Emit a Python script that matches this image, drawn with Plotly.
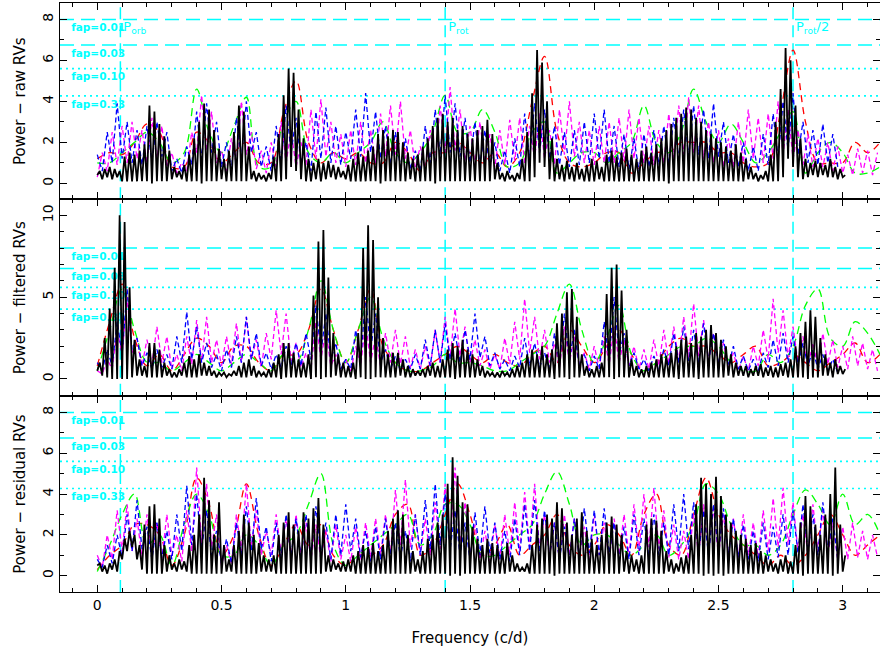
import plotly.graph_objects as go
from plotly.subplots import make_subplots

# ---------------- DATA ----------------
PANEL_TITLES = ["Power − raw RVs", "Power − filtered RVs", "Power − residual RVs"]
FAP_LABELS = ["fap=0.01", "fap=0.03", "fap=0.10", "fap=0.33"]
FAP_LEVELS = [8.0, 6.75, 5.6, 4.27]
MARK_FREQS = [0.093, 1.40, 2.80]
MARK_LABELS = ["P<sub>orb</sub>", "P<sub>rot</sub>", "P<sub>rot</sub>/2"]
X_TICKS = [0, 0.5, 1, 1.5, 2, 2.5, 3]
X_TICK_TEXT = ["0", "0.5", "1", "1.5", "2", "2.5", "3"]

# black: peaks at f = 0.01, 0.03, ... ; troughs at f = 0.00, 0.02, ...
RAW_BLACK_PEAKS = [
    0.6, 0.7, 0.8, 0.7, 0.6, 1.3, 1.5, 1.4, 1.6, 1.9, 3.8, 3.5, 2.9, 2.3, 1.6,
    0.8, 0.6, 0.9, 1.4, 2.2, 3.0, 3.9, 3.6, 2.6, 1.7, 1.2, 1.6, 2.5, 3.8, 3.5,
    1.8, 0.6, 0.5, 0.4, 0.5, 1.3, 2.4, 4.3, 5.6, 5.4, 3.6, 2.2, 1.2, 1.0, 1.2,
    1.0, 1.1, 0.9, 0.8, 0.6, 0.9, 1.2, 1.5, 1.3, 1.6, 1.8, 2.4, 2.6, 2.3, 2.6,
    2.5, 2.0, 1.5, 1.2, 1.4, 1.8, 2.2, 2.8, 3.2, 3.4, 3.0, 3.2, 2.6, 2.8, 2.4,
    2.2, 2.6, 2.8, 3.1, 2.4, 1.0, 0.5, 0.6, 0.4, 0.5, 1.2, 2.5, 4.4, 6.5, 5.9,
    4.0, 2.2, 1.2, 0.9, 1.1, 0.8, 1.0, 0.7, 0.9, 1.2, 1.1, 0.8, 1.4, 1.6, 1.3,
    1.5, 1.7, 1.4, 1.2, 1.6, 1.8, 1.5, 1.9, 2.2, 2.6, 2.9, 3.2, 3.4, 3.7, 3.6,
    3.2, 3.0, 2.6, 2.4, 2.2, 2.0, 1.8, 1.6, 1.9, 1.5, 1.2, 0.8, 0.5, 0.4, 0.6,
    1.4, 3.0, 4.6, 6.6, 6.0, 3.8, 2.2, 1.2, 1.0, 1.1, 1.0, 0.9, 1.2, 0.8, 0.7,
    0.4]
RAW_BLACK_TROUGHS = [
    0.4, 0.2, 0.3, 0.2, 0.3, 0.1, 0.1, 0.1, 0.1, 0.1, 0.1, 0.0, 0.1, 0.1, 0.1,
    0.2, 0.3, 0.2, 0.1, 0.1, 0.1, 0.0, 0.1, 0.1, 0.1, 0.2, 0.1, 0.1, 0.1, 0.1,
    0.1, 0.2, 0.1, 0.2, 0.1, 0.2, 0.1, 0.1, 0.2, 0.8, 0.6, 0.2, 0.1, 0.1, 0.2,
    0.1, 0.2, 0.3, 0.2, 0.3, 0.2, 0.1, 0.1, 0.1, 0.1, 0.1, 0.1, 0.0, 0.1, 0.1,
    0.1, 0.1, 0.1, 0.2, 0.1, 0.1, 0.1, 0.1, 0.0, 0.1, 0.1, 0.1, 0.1, 0.1, 0.1,
    0.1, 0.1, 0.1, 0.1, 0.1, 0.2, 0.2, 0.1, 0.2, 0.1, 0.2, 0.1, 0.1, 0.3, 1.0,
    0.8, 0.2, 0.1, 0.2, 0.1, 0.2, 0.1, 0.2, 0.1, 0.1, 0.1, 0.2, 0.1, 0.1, 0.1,
    0.1, 0.1, 0.1, 0.1, 0.1, 0.1, 0.1, 0.1, 0.1, 0.1, 0.0, 0.1, 0.1, 0.1, 0.1,
    0.1, 0.1, 0.1, 0.1, 0.1, 0.1, 0.1, 0.1, 0.1, 0.1, 0.1, 0.2, 0.2, 0.1, 0.2,
    0.1, 0.1, 0.1, 0.3, 1.2, 0.8, 0.3, 0.2, 0.3, 0.4, 0.3, 0.4, 0.3, 0.3, 0.2,
    0.3]
# blue / magenta: f = 0.00, 0.02, ...
RAW_BLUE = [
    1.4, 0.6, 2.5, 1.0, 3.9, 1.2, 3.0, 1.0, 2.6, 0.9, 2.8, 1.1, 3.0, 1.3, 2.5,
    0.6, 1.2, 0.5, 1.8, 0.9, 3.5, 1.2, 3.9, 1.5, 3.0, 0.8, 2.0, 0.7, 3.2, 1.2,
    4.0, 1.5, 2.5, 0.8, 1.8, 0.6, 2.8, 1.0, 3.8, 1.5, 3.2, 1.0, 2.0, 0.6, 3.5,
    1.2, 3.7, 1.0, 2.8, 0.9, 2.5, 1.2, 3.6, 1.3, 4.4, 1.5, 3.5, 1.2, 2.8, 0.9,
    2.5, 0.8, 2.2, 0.7, 1.6, 0.6, 2.8, 1.0, 3.6, 1.4, 4.3, 1.5, 3.9, 1.3, 3.2,
    1.0, 3.0, 0.9, 2.6, 0.8, 2.0, 0.6, 1.6, 0.5, 2.2, 0.8, 3.4, 1.2, 3.9, 1.5,
    3.6, 1.2, 2.8, 0.9, 2.5, 0.8, 2.6, 0.9, 3.0, 1.0, 3.4, 1.2, 3.6, 1.0, 2.8,
    0.8, 2.4, 0.7, 2.2, 0.6, 2.4, 0.8, 2.6, 0.9, 2.8, 1.0, 3.2, 1.2, 3.6, 1.3,
    3.8, 1.4, 3.6, 1.2, 3.9, 1.3, 3.0, 1.0, 2.4, 0.8, 2.0, 0.6, 1.8, 0.6, 2.4,
    0.9, 3.4, 1.2, 4.0, 1.6, 4.4, 1.4, 3.0, 1.0, 2.6, 0.9, 2.9, 1.0, 2.4, 0.8]
RAW_MAGENTA = [
    0.3, 1.5, 0.6, 2.5, 0.9, 2.8, 1.0, 3.0, 1.2, 2.6, 1.0, 3.2, 1.2, 2.8, 0.8,
    1.5, 0.5, 1.0, 0.6, 2.5, 1.5, 4.3, 1.6, 3.5, 1.0, 1.6, 0.6, 2.2, 0.9, 4.0,
    1.4, 2.5, 0.7, 1.6, 0.5, 2.0, 0.8, 3.0, 1.0, 2.6, 0.8, 2.0, 0.9, 3.6, 1.2,
    4.1, 1.3, 3.0, 1.0, 2.4, 0.8, 2.6, 0.9, 3.0, 1.0, 2.6, 1.0, 3.4, 1.3, 3.8,
    1.4, 4.0, 1.2, 2.6, 0.8, 1.8, 0.6, 2.6, 0.9, 3.8, 1.5, 4.7, 1.6, 3.6, 1.1,
    2.8, 0.9, 3.0, 1.0, 2.4, 0.8, 2.6, 0.9, 3.1, 1.1, 3.2, 1.0, 2.8, 1.2, 3.4,
    1.2, 2.6, 0.9, 3.6, 1.4, 4.0, 1.3, 3.0, 1.0, 2.6, 0.9, 2.8, 1.0, 3.0, 1.0,
    3.2, 1.1, 3.6, 1.2, 3.2, 1.0, 2.8, 0.9, 2.6, 1.0, 3.4, 1.2, 3.8, 1.4, 4.2,
    1.5, 3.8, 1.2, 3.0, 1.0, 2.6, 0.8, 2.2, 0.8, 3.0, 1.0, 3.6, 1.2, 3.2, 1.0,
    3.4, 1.2, 4.0, 1.4, 3.6, 1.2, 2.6, 0.9, 2.4, 0.8, 2.2, 0.8, 2.0, 0.6, 1.8,
    0.5, 1.4, 0.4, 1.7, 0.5, 1.6, 0.4, 1.5]
# red / green: f = 0.00, 0.05, ...
RAW_RED = [
    1.2, 1.5, 1.4, 2.0, 2.9, 2.5, 0.8, 0.8, 2.5, 2.0, 1.0, 1.5, 2.0, 1.0, 1.0,
    3.5, 5.0, 2.0, 1.0, 1.5, 1.2, 1.5, 1.0, 1.0, 2.0, 1.5, 0.6, 1.5, 1.5, 2.0,
    1.5, 1.0, 1.5, 0.8, 1.5, 4.0, 6.2, 2.5, 1.0, 0.8, 1.0, 1.5, 1.5, 0.5, 1.0,
    1.5, 1.5, 2.0, 2.0, 2.0, 1.5, 1.5, 1.0, 0.8, 1.0, 3.5, 6.5, 3.0, 1.0, 1.0,
    1.0, 2.0, 1.5, 2.0]
RAW_GREEN = [
    1.0, 1.0, 1.5, 2.0, 2.5, 2.0, 1.0, 1.5, 4.6, 2.5, 1.5, 2.8, 4.2, 0.8, 0.8,
    3.0, 4.0, 1.5, 1.0, 1.5, 1.0, 1.5, 2.0, 3.0, 1.5, 1.0, 1.5, 2.5, 4.3, 2.5,
    2.5, 3.6, 2.5, 0.8, 1.0, 2.5, 3.0, 0.5, 1.0, 1.5, 1.5, 1.0, 1.5, 2.0, 3.8,
    2.0, 1.5, 2.5, 4.6, 3.0, 2.0, 2.9, 2.0, 1.0, 1.5, 2.5, 3.5, 0.5, 1.5, 2.0,
    1.5, 0.5, 0.5, 0.8]

FILT_BLACK_PEAKS = [
    1.0, 2.5, 4.3, 6.8, 10.0, 9.6, 5.6, 2.4, 1.2, 0.8, 2.2, 2.2, 1.8, 1.0, 0.6,
    0.4, 0.6, 1.0, 1.4, 1.2, 1.5, 1.0, 0.8, 0.5, 0.4, 0.4, 0.3, 0.5, 0.8, 1.0,
    1.2, 0.8, 0.5, 0.4, 0.6, 1.0, 1.5, 2.2, 2.2, 1.6, 1.2, 1.0, 1.5, 5.1, 8.4,
    9.1, 6.2, 2.8, 1.5, 1.0, 0.8, 1.0, 2.8, 8.0, 9.4, 8.5, 5.0, 2.5, 1.5, 1.6,
    1.6, 1.2, 0.8, 0.6, 0.5, 0.6, 0.8, 1.0, 0.8, 1.2, 1.8, 2.2, 2.0, 2.4, 1.8,
    1.5, 1.2, 0.8, 0.5, 0.4, 0.4, 0.5, 0.4, 0.6, 0.8, 1.0, 1.5, 1.8, 1.5, 2.0,
    1.5, 1.8, 3.4, 4.0, 5.3, 5.5, 3.8, 1.5, 0.8, 0.6, 0.8, 1.0, 5.2, 6.8, 7.0,
    5.4, 3.0, 1.2, 0.8, 0.6, 0.8, 1.0, 1.2, 1.5, 1.4, 1.6, 2.0, 2.4, 2.6, 2.2,
    2.8, 2.6, 3.0, 3.3, 2.8, 2.4, 2.0, 1.5, 1.0, 0.8, 0.8, 0.6, 0.8, 0.9, 0.7,
    0.8, 0.7, 0.9, 1.0, 1.2, 2.0, 2.8, 3.5, 4.2, 3.8, 2.5, 1.5, 1.0, 1.2, 0.8,
    0.6]
FILT_BLACK_TROUGHS = [
    0.5, 0.2, 0.1, 0.0, 0.0, 0.0, 0.0, 0.1, 0.2, 0.2, 0.1, 0.1, 0.1, 0.1, 0.2,
    0.1, 0.1, 0.2, 0.1, 0.1, 0.1, 0.2, 0.2, 0.2, 0.1, 0.2, 0.1, 0.2, 0.2, 0.1,
    0.1, 0.2, 0.1, 0.2, 0.1, 0.1, 0.1, 0.0, 0.1, 0.1, 0.1, 0.1, 0.1, 0.0, 0.1,
    0.0, 0.1, 0.1, 0.2, 0.1, 0.1, 0.1, 0.0, 0.1, 0.0, 0.0, 0.1, 0.1, 0.1, 0.1,
    0.1, 0.2, 0.1, 0.1, 0.2, 0.2, 0.1, 0.2, 0.1, 0.1, 0.1, 0.1, 0.0, 0.1, 0.1,
    0.1, 0.1, 0.2, 0.1, 0.2, 0.1, 0.1, 0.2, 0.1, 0.1, 0.1, 0.1, 0.1, 0.1, 0.1,
    0.1, 0.1, 0.0, 0.1, 0.1, 0.0, 0.1, 0.1, 0.2, 0.1, 0.1, 0.1, 0.1, 0.1, 0.0,
    0.1, 0.1, 0.1, 0.2, 0.1, 0.1, 0.1, 0.1, 0.1, 0.1, 0.1, 0.1, 0.0, 0.1, 0.1,
    0.1, 0.0, 0.1, 0.1, 0.1, 0.1, 0.1, 0.2, 0.1, 0.2, 0.2, 0.1, 0.2, 0.2, 0.1,
    0.2, 0.1, 0.1, 0.2, 0.1, 0.1, 0.1, 0.1, 0.0, 0.1, 0.1, 0.2, 0.2, 0.1, 0.3,
    0.3]
FILT_BLUE = [
    1.0, 0.5, 1.8, 0.8, 3.5, 1.5, 5.5, 1.8, 2.5, 0.8, 1.6, 0.6, 1.8, 0.7, 1.5,
    0.6, 2.6, 1.0, 4.1, 1.2, 3.2, 1.0, 2.2, 0.7, 1.5, 0.5, 1.8, 0.7, 2.6, 1.0,
    3.8, 1.2, 2.8, 0.8, 1.6, 0.6, 1.5, 0.7, 2.0, 0.8, 2.2, 0.8, 2.8, 1.2, 4.5,
    1.6, 4.0, 1.2, 2.2, 0.6, 1.2, 0.6, 3.0, 1.2, 5.0, 1.8, 4.0, 1.0, 1.8, 0.6,
    1.4, 0.5, 1.2, 0.6, 1.5, 0.6, 2.4, 0.8, 3.0, 1.0, 3.4, 1.2, 2.8, 1.0, 3.0,
    1.2, 4.0, 1.3, 2.6, 0.8, 1.6, 0.6, 1.2, 0.5, 1.4, 0.7, 2.5, 0.8, 2.2, 0.7,
    1.6, 0.6, 2.8, 1.0, 4.0, 1.2, 3.0, 0.8, 1.5, 0.5, 1.4, 0.6, 3.5, 1.2, 5.0,
    1.5, 2.8, 0.8, 1.6, 0.6, 1.2, 0.5, 1.4, 0.6, 1.8, 0.8, 2.8, 1.0, 3.2, 1.1,
    3.0, 1.0, 3.4, 1.1, 2.8, 1.0, 2.4, 0.8, 2.0, 0.6, 1.4, 0.5, 1.2, 0.5, 1.6,
    0.7, 2.4, 0.8, 2.8, 1.0, 2.6, 0.9, 2.2, 0.8, 1.8, 0.6, 1.5, 0.5, 1.2, 0.4]
FILT_MAGENTA = [
    0.5, 0.3, 1.2, 0.6, 3.0, 1.5, 5.0, 1.6, 2.5, 0.8, 2.4, 0.9, 3.2, 1.0, 2.6,
    0.6, 1.5, 0.5, 2.6, 0.9, 3.6, 1.1, 3.8, 1.0, 2.4, 0.8, 2.6, 0.9, 3.4, 1.0,
    3.8, 1.2, 2.4, 0.7, 2.8, 1.2, 4.2, 1.5, 4.0, 1.1, 2.2, 0.7, 1.6, 0.6, 3.5,
    1.2, 3.0, 0.8, 1.5, 0.5, 1.2, 0.4, 2.0, 0.8, 3.5, 1.0, 2.6, 0.8, 2.8, 1.0,
    3.0, 0.9, 2.6, 0.7, 1.8, 0.6, 2.0, 0.7, 3.0, 1.0, 3.8, 1.3, 4.3, 1.4, 3.2,
    1.0, 2.4, 0.8, 1.8, 0.6, 1.5, 0.6, 2.5, 0.9, 3.5, 1.2, 4.9, 1.6, 3.8, 1.2,
    3.0, 1.0, 2.2, 0.7, 3.2, 1.0, 2.6, 0.8, 1.6, 0.6, 2.0, 0.7, 2.6, 0.9, 3.2,
    1.0, 2.4, 0.8, 2.0, 0.6, 1.8, 0.6, 2.4, 0.8, 3.0, 1.0, 3.2, 1.1, 3.8, 1.3,
    4.6, 1.4, 3.6, 1.1, 2.8, 0.9, 2.2, 0.7, 1.6, 0.5, 1.4, 0.5, 2.0, 0.8, 3.0,
    1.2, 4.9, 1.6, 4.2, 1.3, 3.2, 1.0, 2.6, 0.8, 2.2, 0.8, 2.8, 0.9, 2.4, 0.7,
    2.0, 0.6, 2.6, 0.8, 2.2, 0.6, 1.8, 0.5]
FILT_RED = [
    0.8, 3.5, 5.8, 2.5, 0.8, 1.5, 0.5, 1.5, 2.5, 2.0, 1.0, 2.0, 2.0, 1.0, 0.5,
    1.5, 1.5, 3.0, 5.5, 3.0, 1.0, 3.0, 5.5, 2.0, 1.0, 0.5, 0.5, 1.0, 1.5, 2.0,
    1.5, 1.0, 1.5, 1.0, 0.8, 1.5, 2.0, 1.0, 3.0, 2.0, 1.0, 2.0, 3.0, 1.5, 0.5,
    1.0, 2.0, 2.5, 2.0, 2.0, 1.5, 1.0, 1.5, 2.0, 0.8, 1.0, 1.5, 1.0, 0.5, 1.0,
    1.5, 2.2, 1.0, 1.5]
FILT_GREEN = [
    0.5, 3.0, 5.5, 3.0, 1.0, 1.0, 0.5, 1.0, 1.5, 1.0, 0.5, 1.0, 1.5, 1.0, 0.5,
    1.5, 1.0, 3.0, 6.0, 3.0, 1.0, 3.0, 5.0, 2.5, 1.0, 0.5, 0.5, 0.8, 1.5, 1.0,
    1.0, 0.8, 0.5, 0.5, 1.0, 1.5, 2.0, 4.0, 5.8, 3.0, 1.0, 2.5, 4.5, 1.5, 0.5,
    1.0, 1.5, 2.0, 2.0, 2.5, 2.0, 1.0, 0.5, 0.5, 1.5, 1.0, 2.0, 4.5, 5.5, 2.5,
    2.0, 3.5, 2.8, 1.5]

RES_BLACK_PEAKS = [
    0.6, 0.5, 0.6, 0.8, 1.2, 1.8, 2.2, 2.0, 1.5, 2.5, 3.4, 3.5, 2.8, 1.5, 1.0,
    0.6, 0.8, 0.7, 1.5, 2.0, 3.0, 4.8, 3.7, 2.0, 3.6, 1.5, 0.8, 1.5, 2.2, 3.0,
    2.6, 2.0, 1.6, 1.0, 0.8, 1.0, 2.0, 2.6, 3.1, 2.5, 2.2, 3.1, 2.8, 3.3, 3.8,
    2.5, 1.0, 0.8, 0.6, 0.7, 0.8, 1.0, 1.2, 1.5, 1.4, 1.6, 1.2, 1.5, 2.2, 2.8,
    3.2, 3.0, 2.0, 1.2, 0.8, 1.2, 1.8, 2.0, 2.6, 3.0, 4.5, 5.8, 4.9, 3.6, 3.5,
    2.4, 1.8, 1.5, 1.8, 1.6, 1.5, 1.2, 1.6, 1.0, 0.6, 0.4, 0.6, 1.5, 2.5, 2.8,
    3.0, 2.8, 3.6, 3.3, 2.6, 2.0, 2.8, 3.1, 2.2, 1.8, 1.5, 2.0, 2.6, 2.9, 2.5,
    2.0, 1.2, 1.0, 0.8, 1.0, 2.5, 2.8, 2.7, 2.2, 1.2, 0.8, 0.6, 0.9, 1.0, 2.0,
    3.5, 4.8, 4.5, 4.0, 4.85, 3.9, 3.0, 2.6, 2.2, 2.0, 1.8, 1.5, 1.6, 1.2, 1.0,
    0.8, 0.6, 0.8, 1.0, 0.7, 1.5, 2.6, 3.9, 3.4, 2.5, 2.0, 3.0, 4.0, 5.3, 2.5,
    1.0]
RES_BLACK_TROUGHS = [
    0.5, 0.2, 0.1, 0.3, 0.2, 0.8, 1.2, 1.4, 0.8, 0.3, 0.1, 0.1, 0.1, 0.1, 0.2,
    0.3, 0.2, 0.3, 0.2, 0.1, 0.1, 0.1, 0.1, 0.1, 0.1, 0.1, 0.2, 0.2, 0.1, 0.1,
    0.1, 0.1, 0.1, 0.2, 0.2, 0.2, 0.1, 0.1, 0.1, 0.1, 0.1, 0.1, 0.1, 0.1, 0.1,
    0.1, 0.2, 0.2, 0.3, 0.2, 0.2, 0.2, 0.1, 0.1, 0.1, 0.1, 0.1, 0.1, 0.1, 0.1,
    0.1, 0.1, 0.1, 0.1, 0.2, 0.1, 0.1, 0.1, 0.1, 0.1, 0.1, 0.0, 0.1, 0.0, 0.1,
    0.1, 0.1, 0.1, 0.1, 0.1, 0.1, 0.1, 0.1, 0.2, 0.2, 0.2, 0.2, 0.1, 0.1, 0.1,
    0.1, 0.1, 0.0, 0.1, 0.1, 0.1, 0.1, 0.1, 0.1, 0.1, 0.1, 0.1, 0.1, 0.1, 0.1,
    0.1, 0.2, 0.1, 0.2, 0.1, 0.1, 0.1, 0.1, 0.1, 0.1, 0.2, 0.1, 0.2, 0.1, 0.1,
    0.1, 0.1, 0.0, 0.1, 0.0, 0.1, 0.0, 0.1, 0.1, 0.1, 0.1, 0.1, 0.1, 0.1, 0.1,
    0.2, 0.2, 0.1, 0.2, 0.1, 0.1, 0.1, 0.0, 0.1, 0.1, 0.1, 0.1, 0.1, 0.0, 0.1,
    0.2]
RES_BLUE = [
    0.8, 0.4, 1.5, 0.6, 2.0, 0.9, 3.0, 1.2, 3.7, 1.3, 2.4, 0.8, 2.6, 0.9, 2.2,
    0.8, 3.0, 1.2, 4.4, 1.5, 4.0, 1.3, 3.2, 1.0, 2.2, 0.6, 1.8, 0.6, 2.6, 1.0,
    3.4, 1.2, 3.8, 1.3, 2.4, 0.7, 2.6, 0.9, 3.0, 1.0, 2.8, 0.9, 3.0, 1.0, 3.4,
    1.0, 2.6, 0.8, 3.0, 1.0, 3.5, 1.2, 2.8, 0.9, 2.2, 0.7, 2.4, 0.8, 2.8, 1.0,
    2.6, 0.9, 2.2, 0.7, 3.0, 1.0, 3.7, 1.3, 4.5, 1.5, 4.0, 1.3, 3.2, 1.0, 2.6,
    0.8, 3.1, 1.0, 3.4, 1.1, 2.6, 0.8, 2.2, 0.7, 2.8, 1.0, 3.5, 1.2, 3.7, 1.2,
    3.2, 1.0, 2.6, 0.8, 2.4, 0.8, 2.8, 0.9, 3.3, 1.1, 3.2, 1.0, 3.3, 1.1, 2.6,
    0.8, 2.4, 0.8, 3.0, 1.0, 2.8, 0.9, 3.0, 1.0, 2.6, 1.0, 3.5, 1.2, 4.0, 1.3,
    3.6, 1.1, 3.2, 1.0, 3.5, 1.2, 3.3, 1.0, 2.8, 0.9, 2.5, 0.8, 2.2, 0.7, 2.6,
    0.8, 2.4, 0.9, 3.0, 1.0, 3.2, 1.1, 3.5, 1.2, 3.0, 1.0, 3.6, 1.2, 2.8, 0.8]
RES_MAGENTA = [
    1.0, 0.4, 2.0, 0.8, 3.2, 1.2, 3.5, 1.2, 2.8, 0.9, 3.0, 1.0, 2.6, 0.8, 3.0,
    1.0, 2.0, 0.7, 3.2, 1.2, 5.3, 1.6, 4.5, 1.4, 3.0, 0.5, 1.5, 0.6, 3.0, 1.2,
    4.5, 1.4, 3.2, 1.0, 2.2, 1.0, 3.0, 1.1, 2.8, 0.9, 3.0, 1.0, 2.6, 0.8, 2.5,
    0.8, 2.2, 0.7, 2.5, 0.8, 2.0, 0.7, 2.4, 0.8, 2.6, 0.9, 2.8, 1.0, 3.0, 1.1,
    4.2, 1.5, 4.7, 1.4, 3.0, 1.0, 2.8, 1.0, 3.6, 1.3, 4.5, 1.6, 5.3, 1.6, 3.6,
    1.0, 2.5, 0.8, 2.2, 0.7, 2.5, 0.8, 3.0, 1.0, 3.6, 1.2, 4.1, 1.4, 4.5, 1.3,
    3.0, 0.9, 2.6, 0.8, 3.0, 1.0, 2.8, 0.9, 2.4, 0.8, 3.0, 1.0, 2.6, 0.8, 2.8,
    1.0, 3.0, 1.0, 3.5, 1.2, 4.0, 1.4, 4.3, 1.3, 3.2, 0.9, 2.5, 0.8, 2.2, 0.8,
    3.0, 1.0, 3.5, 1.2, 3.3, 1.0, 3.0, 1.0, 2.8, 0.9, 3.0, 1.0, 2.6, 0.9, 3.2,
    1.2, 3.8, 1.4, 4.3, 1.5, 3.6, 1.2, 3.0, 1.0, 3.5, 1.2, 3.2, 1.0, 2.6, 0.8,
    2.4, 0.8, 2.6, 0.9, 2.2, 0.8, 2.0, 0.9]
RES_RED = [
    0.3, 1.0, 1.5, 2.5, 2.5, 2.0, 0.5, 2.0, 4.8, 3.5, 1.0, 2.0, 4.5, 2.0, 0.5,
    1.5, 2.5, 1.5, 2.5, 1.0, 0.5, 1.0, 1.0, 1.5, 3.0, 3.5, 1.0, 1.5, 3.0, 4.5,
    3.0, 1.0, 1.5, 2.5, 1.0, 1.5, 2.0, 3.0, 1.5, 1.0, 1.5, 2.5, 2.0, 1.0, 3.0,
    4.0, 1.5, 1.0, 3.0, 4.8, 3.0, 2.0, 1.5, 1.0, 0.5, 1.0, 0.5, 1.0, 2.0, 3.0,
    2.0, 1.0, 1.5, 2.0]
RES_GREEN = [
    0.2, 1.5, 3.0, 4.0, 1.5, 2.0, 0.5, 2.5, 4.0, 3.0, 1.0, 1.0, 2.0, 1.5, 0.5,
    1.5, 2.0, 3.5, 5.0, 1.5, 0.5, 1.0, 1.5, 2.0, 2.5, 3.0, 1.5, 2.0, 3.5, 3.5,
    2.5, 1.0, 1.0, 1.5, 2.0, 2.5, 4.0, 5.1, 3.5, 1.5, 2.0, 2.0, 1.5, 1.0, 1.5,
    2.0, 1.0, 1.5, 2.5, 4.5, 4.0, 2.5, 1.5, 1.5, 1.0, 1.5, 3.0, 4.2, 3.5, 2.5,
    4.0, 2.5, 3.0, 2.0]

PANELS = [
    dict(peaks=RAW_BLACK_PEAKS, troughs=RAW_BLACK_TROUGHS, blue=RAW_BLUE,
         magenta=RAW_MAGENTA, red=RAW_RED, green=RAW_GREEN),
    dict(peaks=FILT_BLACK_PEAKS, troughs=FILT_BLACK_TROUGHS, blue=FILT_BLUE,
         magenta=FILT_MAGENTA, red=FILT_RED, green=FILT_GREEN),
    dict(peaks=RES_BLACK_PEAKS, troughs=RES_BLACK_TROUGHS, blue=RES_BLUE,
         magenta=RES_MAGENTA, red=RES_RED, green=RES_GREEN),
]

# ---------------- STYLE ----------------
FONT = "DejaVu Sans"
CYAN = "#00ffff"
Y_RANGES = [[-0.78, 8.80], [-1.02, 10.98], [-0.80, 8.82]]
Y_DTICK = [2, 5, 2]
X_RANGE = [-0.15, 3.15]
PANEL_PX = 196.33  # pixel height of each panel


def grid(n, step, start=0.0):
    return [round(start + i * step, 3) for i in range(n)]


def interleave(troughs, peaks):
    xs, ys = [], []
    for i in range(max(len(troughs), len(peaks))):
        if i < len(troughs):
            xs.append(round(0.02 * i, 3))
            ys.append(troughs[i])
        if i < len(peaks):
            xs.append(round(0.02 * i + 0.01, 3))
            ys.append(peaks[i])
    return xs, ys


fig = make_subplots(rows=3, cols=1, shared_xaxes=True, vertical_spacing=0)

for r, p in enumerate(PANELS, start=1):
    yr = Y_RANGES[r - 1]
    units_per_px = (yr[1] - yr[0]) / PANEL_PX
    # fap labels as text traces (drawn below the curves), ~4px lower than the line
    fig.add_trace(go.Scatter(
        x=[-0.105] * len(FAP_LEVELS), y=[v - 4 * units_per_px for v in FAP_LEVELS],
        mode="text", text=FAP_LABELS, textposition="bottom right",
        textfont=dict(family=FONT, size=10.5, color=CYAN, weight="bold"),
        showlegend=False, hoverinfo="skip"), row=r, col=1)
    if r == 1:
        fig.add_trace(go.Scatter(
            x=[f + 0.012 for f in MARK_FREQS],
            y=[FAP_LEVELS[0] - 2 * units_per_px] * len(MARK_FREQS), mode="text",
            text=MARK_LABELS, textposition="bottom right",
            textfont=dict(family=FONT, size=13, color=CYAN),
            showlegend=False, hoverinfo="skip"), row=r, col=1)
    fig.add_trace(go.Scatter(
        x=grid(len(p["red"]), 0.05), y=p["red"], mode="lines",
        line=dict(color="#ff0000", width=1.3, dash="7px,5px", shape="spline"),
        showlegend=False), row=r, col=1)
    fig.add_trace(go.Scatter(
        x=grid(len(p["green"]), 0.05), y=p["green"], mode="lines",
        line=dict(color="#00ff00", width=1.3, dash="8px,5px", shape="spline"),
        showlegend=False), row=r, col=1)
    fig.add_trace(go.Scatter(
        x=grid(len(p["magenta"]), 0.02), y=p["magenta"], mode="lines",
        line=dict(color="#ff00ff", width=1.3, dash="5px,3px"),
        showlegend=False), row=r, col=1)
    fig.add_trace(go.Scatter(
        x=grid(len(p["blue"]), 0.02), y=p["blue"], mode="lines",
        line=dict(color="#0000ff", width=1.3, dash="5px,3px"),
        showlegend=False), row=r, col=1)
    bx, by = interleave(p["troughs"], p["peaks"])
    fig.add_trace(go.Scatter(
        x=bx, y=by, mode="lines", line=dict(color="#000000", width=1.8),
        showlegend=False), row=r, col=1)

    yref = "y" if r == 1 else f"y{r}"
    xref = "x" if r == 1 else f"x{r}"
    for i, lev in enumerate(FAP_LEVELS):
        fig.add_shape(type="line", xref=f"{xref} domain", yref=yref,
                      x0=0, x1=1, y0=lev, y1=lev, layer="below",
                      line=dict(color=CYAN, width=1.5 if i < 2 else 1.6,
                                dash="14px,7px" if i < 2 else "2px,4px"))
    for f in MARK_FREQS:
        fig.add_shape(type="line", xref=xref, yref=f"{yref} domain",
                      x0=f, x1=f, y0=0, y1=1, layer="below",
                      line=dict(color=CYAN, width=1.5, dash="12px,6px"))

    fig.update_yaxes(
        row=r, col=1, range=yr, dtick=Y_DTICK[r - 1], tick0=0,
        showline=True, linecolor="black", linewidth=1, mirror="ticks",
        ticks="inside", ticklen=7, tickcolor="black", tickangle=-90,
        showgrid=False, zeroline=False, automargin=False,
        minor=dict(ticks="inside", dtick=1, ticklen=4, tickcolor="black", showgrid=False),
        tickfont=dict(family=FONT, size=14, color="black"))
    fig.update_xaxes(
        row=r, col=1, range=X_RANGE, tickvals=X_TICKS, ticktext=X_TICK_TEXT,
        showline=True, linecolor="black", linewidth=1, mirror="ticks",
        ticks="inside", ticklen=7, tickcolor="black",
        showgrid=False, zeroline=False, automargin=False,
        minor=dict(ticks="inside", dtick=0.1, tick0=0, ticklen=4, tickcolor="black", showgrid=False),
        tickfont=dict(family=FONT, size=14, color="black"))

fig.update_xaxes(row=3, col=1, title=dict(text="Frequency (c/d)",
                 font=dict(family=FONT, size=15, color="black"), standoff=20))

panel_centers = [5 / 6, 0.5, 1 / 6]
for t, yc in zip(PANEL_TITLES, panel_centers):
    fig.add_annotation(text=t, xref="paper", yref="paper", x=-0.049, y=yc,
                       textangle=-90, showarrow=False, xanchor="center", yanchor="middle",
                       font=dict(family=FONT, size=15, color="black"))

fig.update_layout(
    width=880, height=659, margin=dict(l=60, r=0, t=3, b=67),
    plot_bgcolor="white", paper_bgcolor="white", showlegend=False,
    font=dict(family=FONT, color="black"))

fig.write_html("out.html", config={"displayModeBar": False},
               post_script="document.body.style.margin='0';")
